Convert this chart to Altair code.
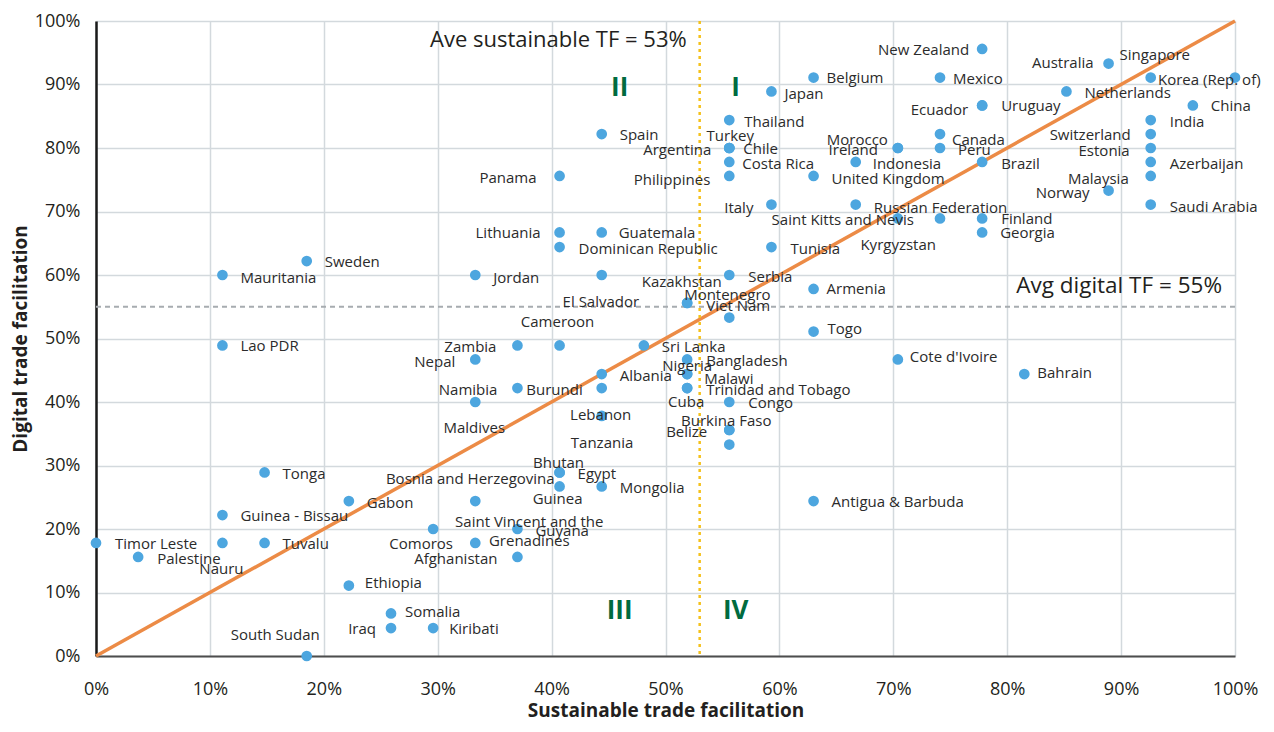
import altair as alt
import pandas as pd

# ---------------- data ----------------
countries = [
    "New Zealand", "Australia", "Singapore", "Korea (Rep. of)", "Belgium", "Mexico",
    "Japan", "Netherlands", "Uruguay", "Ecuador", "China", "Thailand", "India", "Spain",
    "Canada", "Switzerland", "Turkey", "Chile", "Argentina", "Morocco", "Ireland", "Peru",
    "Estonia", "Costa Rica", "Indonesia", "Brazil", "Azerbaijan", "Panama", "Philippines",
    "United Kingdom", "Malaysia", "Norway", "Italy", "Russian Federation", "Saudi Arabia",
    "Saint Kitts and Nevis", "Kyrgyzstan", "Finland", "Georgia", "Lithuania", "Guatemala",
    "Dominican Republic", "Tunisia", "Sweden", "Mauritania", "Jordan", "Kazakhstan",
    "Serbia", "Armenia", "El Salvador", "Montenegro", "Viet Nam", "Togo", "Cameroon",
    "Lao PDR", "Zambia", "Sri Lanka", "Nepal", "Bangladesh", "Cote d'Ivoire", "Nigeria",
    "Malawi", "Albania", "Bahrain", "Namibia", "Burundi", "Trinidad and Tobago", "Cuba",
    "Maldives", "Congo", "Lebanon", "Burkina Faso", "Belize", "Tanzania", "Tonga",
    "Bhutan", "Egypt", "Guinea", "Mongolia", "Bosnia and Herzegovina", "Gabon",
    "Antigua & Barbuda", "Guinea - Bissau", "Comoros", "Guyana", "Timor Leste", "Nauru",
    "Tuvalu", "Saint Vincent and the\nGrenadines", "Palestine", "Afghanistan", "Ethiopia",
    "Somalia", "Iraq", "Kiribati", "South Sudan",
]
sustainable_tf = [
    77.8, 88.9, 92.6, 100.0, 63.0, 74.1,
    59.3, 85.2, 77.8, 77.8, 96.3, 55.6, 92.6, 44.4,
    74.1, 92.6, 55.6, 55.6, 55.6, 70.4, 70.4, 74.1,
    92.6, 55.6, 66.7, 77.8, 92.6, 40.7, 55.6,
    63.0, 92.6, 88.9, 59.3, 66.7, 92.6,
    70.4, 74.1, 77.8, 77.8, 40.7, 44.4,
    40.7, 59.3, 18.5, 11.1, 33.3, 44.4,
    55.6, 63.0, 51.9, 51.9, 55.6, 63.0, 40.7,
    11.1, 37.0, 48.1, 33.3, 51.9, 70.4, 51.9,
    51.9, 44.4, 81.5, 37.0, 44.4, 51.9, 51.9,
    33.3, 55.6, 44.4, 55.6, 55.6, 55.6, 14.8,
    40.7, 40.7, 40.7, 44.4, 33.3, 22.2,
    63.0, 11.1, 29.6, 37.0, 0.0, 11.1,
    14.8, 33.3, 3.7, 37.0, 22.2,
    25.9, 25.9, 29.6, 18.5,
]
digital_tf = [
    95.6, 93.3, 91.1, 91.1, 91.1, 91.1,
    88.9, 88.9, 86.7, 86.7, 86.7, 84.4, 84.4, 82.2,
    82.2, 82.2, 80.0, 80.0, 80.0, 80.0, 80.0, 80.0,
    80.0, 77.8, 77.8, 77.8, 77.8, 75.6, 75.6,
    75.6, 75.6, 73.3, 71.1, 71.1, 71.1,
    68.9, 68.9, 68.9, 66.7, 66.7, 66.7,
    64.4, 64.4, 62.2, 60.0, 60.0, 60.0,
    60.0, 57.8, 55.6, 55.6, 53.3, 51.1, 48.9,
    48.9, 48.9, 48.9, 46.7, 46.7, 46.7, 44.4,
    44.4, 44.4, 44.4, 42.2, 42.2, 42.2, 42.2,
    40.0, 40.0, 37.8, 35.6, 35.6, 33.3, 28.9,
    28.9, 28.9, 26.7, 26.7, 24.4, 24.4,
    24.4, 22.2, 20.0, 20.0, 17.8, 17.8,
    17.8, 17.8, 15.6, 15.6, 11.1,
    6.7, 4.4, 4.4, 0.0,
]

avg_sustainable = 53
avg_digital = 55
tick_values = list(range(0, 101, 10))
quadrants = ["II", "I", "III", "IV"]

# ---------------- label placement (style: align, dx px, dy px) ----------------
label_place = {
    "New Zealand": ("right", -13, 1), "Australia": ("right", -15, -1),
    "Singapore": ("center", 4, -23), "Korea (Rep. of)": ("left", -77, 2),
    "Belgium": ("left", 13, 0), "Mexico": ("left", 13, 1), "Japan": ("left", 13, 3),
    "Netherlands": ("left", 18, 2), "Uruguay": ("left", 19, 1), "Ecuador": ("right", -14, 5),
    "China": ("left", 18, 1), "Thailand": ("left", 15, 2), "India": ("left", 19, 2),
    "Spain": ("left", 18, 1), "Canada": ("left", 12, 6), "Switzerland": ("right", -20, 1),
    "Turkey": ("center", 1, -12), "Chile": ("left", 14, 1), "Argentina": ("right", -18, 2),
    "Morocco": ("right", -10, -8), "Ireland": ("right", -20, 2), "Peru": ("left", 18, 2),
    "Estonia": ("right", -21, 3), "Costa Rica": ("left", 13, 2), "Indonesia": ("left", 17, 2),
    "Brazil": ("left", 19, 2), "Azerbaijan": ("left", 19, 2), "Panama": ("right", -23, 2),
    "Philippines": ("right", -19, 4), "United Kingdom": ("left", 18, 3),
    "Malaysia": ("right", -22, 3), "Norway": ("right", -19, 2), "Italy": ("right", -18, 3),
    "Russian Federation": ("left", 18, 3), "Saudi Arabia": ("left", 19, 2),
    "Saint Kitts and Nevis": ("right", 16, 2), "Kyrgyzstan": ("right", -4, 27),
    "Finland": ("left", 19, 1), "Georgia": ("left", 18, 1), "Lithuania": ("right", -19, 1),
    "Guatemala": ("left", 17, 1), "Dominican Republic": ("left", 19, 2),
    "Tunisia": ("left", 19, 2), "Sweden": ("left", 18, 1), "Mauritania": ("left", 18, 3),
    "Jordan": ("left", 18, 3), "Kazakhstan": ("left", 40, 7), "Serbia": ("left", 19, 2),
    "Armenia": ("left", 13, 0), "El Salvador": ("right", -48, -1),
    "Montenegro": ("left", -3, -8), "Viet Nam": ("center", 9, -12), "Togo": ("left", 14, -3),
    "Cameroon": ("center", -2, -23), "Lao PDR": ("left", 18, 1), "Zambia": ("right", -21, 2),
    "Sri Lanka": ("left", 18, 2), "Nepal": ("right", -20, 3), "Bangladesh": ("left", 19, 2),
    "Cote d'Ivoire": ("left", 12, -2), "Nigeria": ("center", 0, -8), "Malawi": ("left", 17, 5),
    "Albania": ("left", 18, 2), "Bahrain": ("left", 13, -1), "Namibia": ("right", -20, 2),
    "Burundi": ("right", -19, 2), "Trinidad and Tobago": ("left", 19, 2),
    "Cuba": ("center", -1, 14), "Maldives": ("center", -1, 26), "Congo": ("left", 19, 1),
    "Lebanon": ("center", -1, -1), "Burkina Faso": ("center", -3, -9),
    "Belize": ("right", -22, 2), "Tanzania": ("right", -96, -2), "Tonga": ("left", 18, 2),
    "Bhutan": ("center", -1, -9), "Egypt": ("left", 18, 2), "Guinea": ("center", -2, 13),
    "Mongolia": ("left", 18, 2), "Bosnia and Herzegovina": ("center", -5, -22),
    "Gabon": ("left", 18, 2), "Antigua & Barbuda": ("left", 18, 1),
    "Guinea - Bissau": ("left", 18, 1), "Comoros": ("center", -12, 15),
    "Guyana": ("left", 18, 2), "Timor Leste": ("left", 19, 1), "Nauru": ("center", -1, 26),
    "Tuvalu": ("left", 18, 1), "Saint Vincent and the\nGrenadines": ("center", 54, -21),
    "Palestine": ("left", 19, 2), "Afghanistan": ("right", -20, 2),
    "Ethiopia": ("left", 16, -3), "Somalia": ("left", 14, -1), "Iraq": ("right", -15, 1),
    "Kiribati": ("left", 16, 1), "South Sudan": ("right", 13, -21),
}

FONT = "Open Sans"
TEXT = "#231F20"

df = pd.DataFrame({"country": countries, "sustainable": sustainable_tf, "digital": digital_tf})

axis_common = dict(
    values=tick_values, labelExpr="datum.value + '%'", labelFlush=False, grid=True,
    gridColor="#D3D9DD", gridWidth=1.5, ticks=False, tickSize=0, labelFont=FONT,
    labelFontSize=18, labelColor=TEXT, titleFont=FONT, titleFontSize=19,
    titleFontWeight="bold", titleColor=TEXT,
)
x_enc = alt.X(
    "sustainable:Q", scale=alt.Scale(domain=[0, 100], nice=False),
    title="Sustainable trade facilitation",
    axis=alt.Axis(**axis_common, domainColor="#4D4D4D", domainWidth=2, labelPadding=24,
                  titleY=54, titleBaseline="middle"),
)
y_enc = alt.Y(
    "digital:Q", scale=alt.Scale(domain=[0, 100], nice=False),
    title="Digital trade facilitation",
    axis=alt.Axis(**axis_common, domainColor="#1A1A1A", domainWidth=2.5, labelPadding=16,
                  titleX=-76, titleY=317.5, titleAngle=-90, titleBaseline="middle",
                  titleAlign="center"),
)

# parity line y = x across the domain
parity = pd.DataFrame({"sustainable": [0, 100], "digital": [0, 100]})
diag = alt.Chart(parity).mark_line(color="#EC8B46", strokeWidth=3.5).encode(x=x_enc, y=y_enc)

vline = alt.Chart(pd.DataFrame({"sustainable": [avg_sustainable]})).mark_rule(
    color="#F5C11A", strokeWidth=2.5, strokeDash=[3, 4]).encode(x=x_enc)
hline = alt.Chart(pd.DataFrame({"digital": [avg_digital]})).mark_rule(
    color="#A7ACB0", strokeWidth=2, strokeDash=[5, 4]).encode(y=y_enc)

points = alt.Chart(df).mark_circle(size=115, color="#4DA6DF", opacity=1).encode(x=x_enc, y=y_enc)

groups = {}
for name in countries:
    groups.setdefault(label_place[name], []).append(name)
label_layers = []
for (a, dx, dy), names in groups.items():
    label_layers.append(
        alt.Chart(df)
        .transform_filter(alt.FieldOneOfPredicate(field="country", oneOf=names))
        .mark_text(align=a, baseline="middle", dx=dx, dy=dy, font=FONT, fontSize=15,
                   color="#2B2B2B", lineBreak="\n", lineHeight=19)
        .encode(x=x_enc, y=y_enc, text="country:N")
    )

ann_s = alt.Chart(pd.DataFrame({"sustainable": [avg_sustainable], "digital": [100],
                                "t": [f"Ave sustainable TF = {avg_sustainable}%"]})).mark_text(
    align="right", baseline="middle", dx=-13, dy=19, font=FONT, fontSize=22, color=TEXT
).encode(x=x_enc, y=y_enc, text="t:N")
ann_d = alt.Chart(pd.DataFrame({"sustainable": [100], "digital": [avg_digital],
                                "t": [f"Avg digital TF = {avg_digital}%"]})).mark_text(
    align="right", baseline="middle", dx=-13, dy=-21, font=FONT, fontSize=22.5, color=TEXT
).encode(x=x_enc, y=y_enc, text="t:N")

quad_layers = []
quad_style = {"II": (-80, 67, 100), "I": (36, 67, 100), "III": (-80, -45, 0), "IV": (36, -45, 0)}
for q in quadrants:
    qdx, qdy, qy = quad_style[q]
    quad_layers.append(
        alt.Chart(pd.DataFrame({"sustainable": [avg_sustainable], "digital": [qy], "t": [q]}))
        .mark_text(align="center", baseline="middle", dx=qdx, dy=qdy, font=FONT,
                   fontSize=26, fontWeight="bold", color="#006B3F")
        .encode(x=x_enc, y=y_enc, text="t:N")
    )

chart = alt.layer(diag, vline, hline, points, *label_layers, ann_s, ann_d, *quad_layers).properties(
    width=1139, height=635,
    padding={"left": 88, "top": 13, "right": 30, "bottom": 68},
    autosize=alt.AutoSizeParams(type="none"),
).configure_view(stroke=None)

chart.save("out.html", embed_options={"renderer": "svg", "actions": False})
